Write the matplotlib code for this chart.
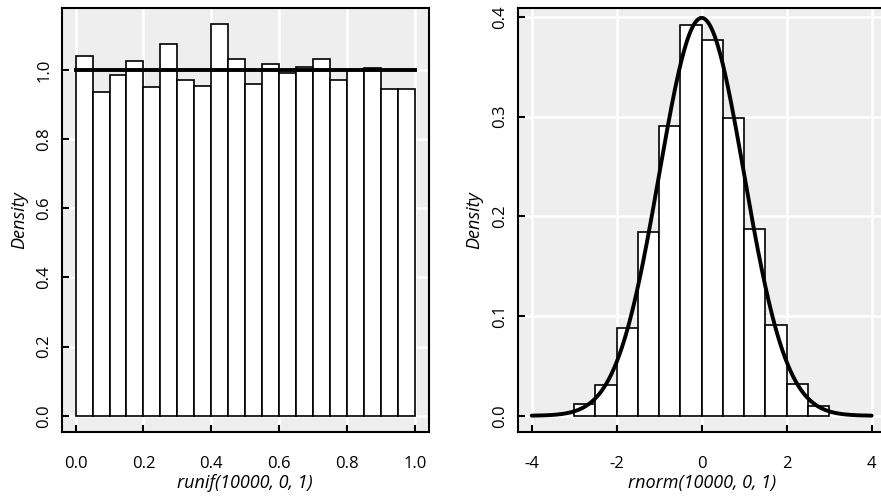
import numpy as np
import matplotlib.pyplot as plt

plt.rcParams['font.family'] = ['Open Sans', 'DejaVu Sans']

# histogram of runif(10000, 0, 1)
unif_edges = [0.00, 0.05, 0.10, 0.15, 0.20, 0.25, 0.30, 0.35, 0.40, 0.45, 0.50,
              0.55, 0.60, 0.65, 0.70, 0.75, 0.80, 0.85, 0.90, 0.95, 1.00]
unif_density = [1.041, 0.937, 0.986, 1.025, 0.952, 1.074, 0.970, 0.953, 1.133, 1.031,
                0.960, 1.018, 0.991, 1.008, 1.033, 0.971, 0.999, 1.006, 0.944, 0.945]
unif_line_x = [0.0, 1.0]
unif_line_y = [1.0, 1.0]

# histogram of rnorm(10000, 0, 1)
norm_edges = [-3.0, -2.5, -2.0, -1.5, -1.0, -0.5, 0.0,
              0.5, 1.0, 1.5, 2.0, 2.5, 3.0]
norm_density = [0.012, 0.031, 0.088, 0.184, 0.291, 0.392,
                0.377, 0.299, 0.187, 0.091, 0.0315, 0.0097]
norm_mean = 0.0
norm_sd = 1.0
curve_from, curve_to = -4.0, 4.0

unif_xticks = [0.0, 0.2, 0.4, 0.6, 0.8, 1.0]
unif_xlabels = ['0.0', '0.2', '0.4', '0.6', '0.8', '1.0']
unif_yticks = [0.0, 0.2, 0.4, 0.6, 0.8, 1.0]
unif_ylabels = ['0.0', '0.2', '0.4', '0.6', '0.8', '1.0']
norm_xticks = [-4, -2, 0, 2, 4]
norm_xlabels = ['-4', '-2', '0', '2', '4']
norm_yticks = [0.0, 0.1, 0.2, 0.3, 0.4]
norm_ylabels = ['0.0', '0.1', '0.2', '0.3', '0.4']

BG = '#eeeeee'

fig = plt.figure(figsize=(8.81, 5.01), dpi=100)
ax1 = fig.add_axes([0.0704, 0.1377, 0.416, 0.846])
ax2 = fig.add_axes([0.5876, 0.1377, 0.4177, 0.846])


def style(ax, xt, xl, yt, yl, xlab):
    ax.set_facecolor(BG)
    ax.grid(True, color='white', lw=1.8)
    ax.set_axisbelow(True)
    for s in ax.spines.values():
        s.set_linewidth(1.5)
        s.set_color('black')
    ax.set_xticks(xt)
    ax.set_xticklabels(xl)
    ax.set_yticks(yt)
    ax.set_yticklabels(yl, rotation=90, va='center')
    ax.tick_params(direction='in', length=5, width=1.5, labelsize=12, color='black')
    ax.tick_params(axis='x', pad=17)
    ax.tick_params(axis='y', pad=7)
    ax.set_xlabel(xlab, fontsize=13, style='italic', labelpad=2)
    ax.set_ylabel('Density', fontsize=13, style='italic', labelpad=6)


# left panel
w1 = np.diff(unif_edges)
ax1.bar(unif_edges[:-1], unif_density, width=w1, align='edge',
        color='white', edgecolor='black', lw=1.2, zorder=2)
ax1.plot(unif_line_x, unif_line_y, color='black', lw=2.8, zorder=3)
ax1.set_xlim(-0.04, 1.04)
ax1.set_ylim(-0.047, 1.179)
style(ax1, unif_xticks, unif_xlabels, unif_yticks, unif_ylabels, 'runif(10000, 0, 1)')

# right panel
w2 = np.diff(norm_edges)
ax2.bar(norm_edges[:-1], norm_density, width=w2, align='edge',
        color='white', edgecolor='black', lw=1.2, zorder=2)
xs = np.linspace(curve_from, curve_to, 401)
ys = np.exp(-0.5 * ((xs - norm_mean) / norm_sd) ** 2) / (norm_sd * np.sqrt(2 * np.pi))
ax2.plot(xs, ys, color='black', lw=2.8, zorder=3, solid_capstyle='round')
ax2.set_xlim(-4.33, 4.33)
ax2.set_ylim(-0.0163, 0.4087)
style(ax2, norm_xticks, norm_xlabels, norm_yticks, norm_ylabels, 'rnorm(10000, 0, 1)')

fig.savefig('out.png', dpi=100)
